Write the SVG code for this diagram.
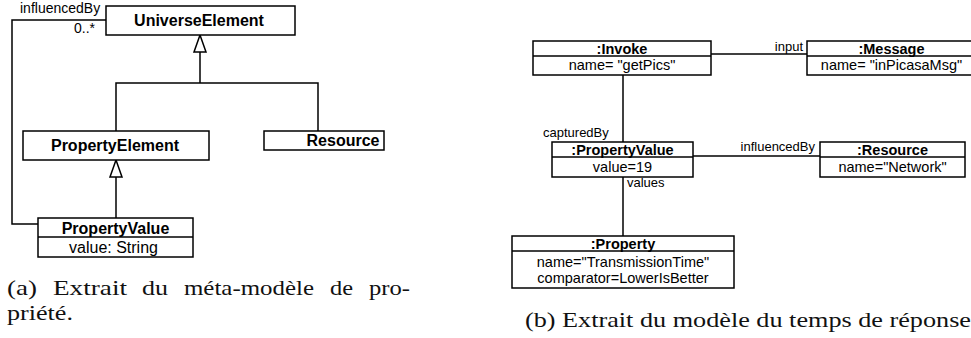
<svg xmlns="http://www.w3.org/2000/svg" width="971" height="338" viewBox="0 0 971 338">
<style>
.box{fill:#fff;stroke:#000;stroke-width:1.5}
.ln{fill:none;stroke:#000;stroke-width:1.5}
.tri{fill:#fff;stroke:#000;stroke-width:1.5;stroke-linejoin:miter}
.b16{font-family:"Liberation Sans",Arial,sans-serif;font-weight:bold;font-size:16px;text-anchor:middle}
.r16{font-family:"Liberation Sans",Arial,sans-serif;font-size:16px;text-anchor:middle}
.b14{font-family:"Liberation Sans",Arial,sans-serif;font-weight:bold;font-size:14.5px;text-anchor:middle}
.r14{font-family:"Liberation Sans",Arial,sans-serif;font-size:14.5px;text-anchor:middle}
.lbl{font-family:"Liberation Sans",Arial,sans-serif;font-size:13px}
.lbl14{font-family:"Liberation Sans",Arial,sans-serif;font-size:14px}
.cap{font-family:"Liberation Serif","Times New Roman",serif;font-size:22px;fill:#111}
</style>
<g id="connectors">
  <polyline class="ln" points="106,20 12,20 12,224 38,224"/>
  <text class="lbl14" x="20" y="13">influencedBy</text>
  <text class="lbl14" x="95" y="33" text-anchor="end">0..*</text>
  <polyline class="ln" points="200,52 200,83"/>
  <polyline class="ln" points="116,131 116,83 318,83 318,131"/>
  <polygon class="tri" points="200,35 194,52 206,52"/>
  <line class="ln" x1="116" y1="177" x2="116" y2="218"/>
  <polygon class="tri" points="116,160 110,177 122,177"/>
  <line class="ln" x1="711" y1="54" x2="807" y2="54"/>
  <text class="lbl" x="803" y="51" text-anchor="end">input</text>
  <line class="ln" x1="623" y1="75" x2="623" y2="142"/>
  <text class="lbl" x="543" y="137">capturedBy</text>
  <line class="ln" x1="693" y1="156" x2="820" y2="156"/>
  <text class="lbl" x="815" y="151" text-anchor="end">influencedBy</text>
  <line class="ln" x1="623" y1="177" x2="623" y2="236"/>
  <text class="lbl" x="627" y="187">values</text>
</g>
<g id="UniverseElement">
  <rect class="box" x="106" y="6" width="189" height="29"/>
  <text class="b16" x="199" y="26">UniverseElement</text>
</g>
<g id="PropertyElement">
  <rect class="box" x="23" y="131" width="186" height="29"/>
  <text class="b16" x="115" y="151">PropertyElement</text>
</g>
<g id="Resource">
  <rect class="box" x="264" y="131" width="120" height="19"/>
  <text class="b16" x="343" y="146">Resource</text>
</g>
<g id="PropertyValue">
  <rect class="box" x="38" y="218" width="155" height="39"/>
  <line class="ln" x1="38" y1="237" x2="193" y2="237"/>
  <text class="b16" x="115.5" y="234">PropertyValue</text>
  <text class="r16" x="113.5" y="253">value: String</text>
</g>
<g id="Invoke">
  <rect class="box" x="533" y="41" width="178" height="34"/>
  <line class="ln" x1="533" y1="56" x2="711" y2="56"/>
  <text class="b14" x="622" y="53.5">:Invoke</text>
  <text class="r14" x="622" y="70">name= "getPics"</text>
</g>
<g id="Message">
  <rect class="box" x="807" y="41" width="170" height="34"/>
  <line class="ln" x1="807" y1="56" x2="977" y2="56"/>
  <text class="b14" x="891.5" y="53.5">:Message</text>
  <text class="r14" x="891.5" y="70">name= "inPicasaMsg"</text>
</g>
<g id="PropertyValueObj">
  <rect class="box" x="552" y="142" width="141" height="35"/>
  <line class="ln" x1="552" y1="157" x2="693" y2="157"/>
  <text class="b14" x="622.5" y="154.5">:PropertyValue</text>
  <text class="r14" x="622.5" y="172">value=19</text>
</g>
<g id="ResourceObj">
  <rect class="box" x="820" y="142" width="145" height="35"/>
  <line class="ln" x1="820" y1="157" x2="965" y2="157"/>
  <text class="b14" x="892.5" y="154.5">:Resource</text>
  <text class="r14" x="892.5" y="172">name="Network"</text>
</g>
<g id="Property">
  <rect class="box" x="512" y="236" width="222" height="52"/>
  <line class="ln" x1="512" y1="251" x2="734" y2="251"/>
  <text class="b14" x="623" y="248.5">:Property</text>
  <text class="r14" x="623" y="267">name="TransmissionTime"</text>
  <text class="r14" x="623" y="283">comparator=LowerIsBetter</text>
</g>
<g id="captions">
  <text class="cap" x="7" y="295" textLength="30" lengthAdjust="spacingAndGlyphs">(a)</text>
  <text class="cap" x="53" y="295" textLength="74" lengthAdjust="spacingAndGlyphs">Extrait</text>
  <text class="cap" x="142" y="295" textLength="26" lengthAdjust="spacingAndGlyphs">du</text>
  <text class="cap" x="184" y="295" textLength="130" lengthAdjust="spacingAndGlyphs">méta-modèle</text>
  <text class="cap" x="330" y="295" textLength="23" lengthAdjust="spacingAndGlyphs">de</text>
  <text class="cap" x="369" y="295" textLength="41" lengthAdjust="spacingAndGlyphs">pro-</text>
  <text class="cap" x="7" y="320" textLength="66" lengthAdjust="spacingAndGlyphs">priété.</text>
  <text class="cap" x="525" y="327" textLength="446" lengthAdjust="spacingAndGlyphs">(b) Extrait du modèle du temps de réponse</text>
</g>
</svg>
